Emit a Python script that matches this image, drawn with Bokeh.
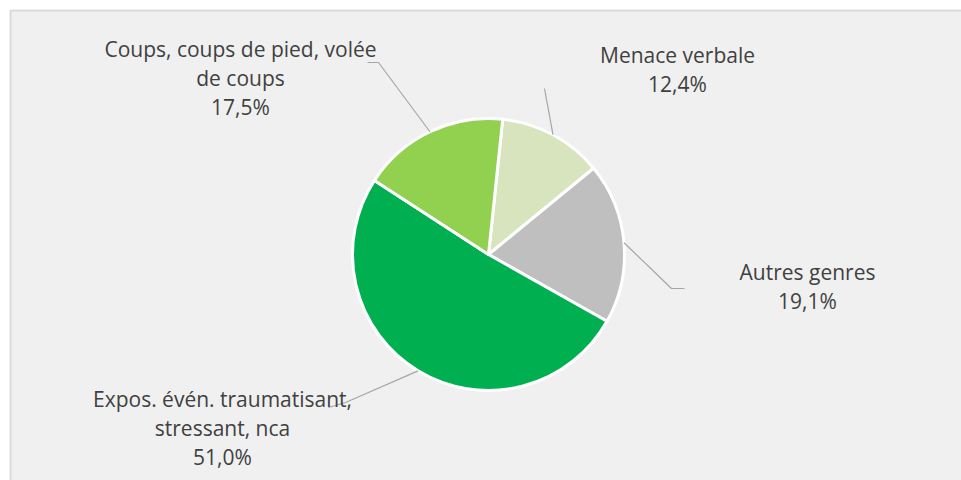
import math
from bokeh.plotting import figure
from bokeh.models import Range1d
from bokeh.core.properties import value
from bokeh.embed import file_html
from bokeh.resources import INLINE

# ---- data ----
categories = ["Menace verbale", "Autres genres",
              "Expos. évén. traumatisant,\nstressant, nca",
              "Coups, coups de pied, volée\nde coups"]
shares = [12.4, 19.1, 51.0, 17.5]
pct_labels = ["12,4%", "19,1%", "51,0%", "17,5%"]
colors = ["#d7e4bd", "#bfbfbf", "#00b050", "#92d050"]

# ---- layout (page pixel coordinates, y downward) ----
W, H = 961, 480
X0, Y0 = 9, 9          # frame top-left on the page
CX, CY, R = 488, 254, 136
START_DEG = 6.0        # first slice boundary, clockwise from 12 o'clock
LINE_GAP = 29
TEXT_SHIFT = -9
label_anchor = [(677, 63), (807, 280), (222, 407), (240, 57)]   # first-line baseline centre
leader_rest = [
    [(544, 88)],
    [(671, 288), (684, 288)],
    [(345, 402), (328, 407)],
    [(378, 62), (367, 62)],
]

def ty(page_y):
    return H - page_y

p = figure(width=W, height=H, output_backend="svg", toolbar_location=None,
           x_range=Range1d(X0, W), y_range=Range1d(0, H - Y0),
           min_border_left=X0, min_border_top=Y0, min_border_right=0, min_border_bottom=0,
           background_fill_color="#f0f0f0", border_fill_color="white",
           outline_line_color=None)
p.axis.visible = False
p.grid.visible = False

# chart-area border (top and left edges visible)
p.segment(x0=[X0 + 1, X0 + 1], y0=[ty(Y0 + 1), 0],
          x1=[W, X0 + 1], y1=[ty(Y0 + 1), ty(Y0 + 1)],
          line_color="#d9d9d9", line_width=2)

total = sum(shares)
cum = START_DEG
starts, ends, mids = [], [], []
for s in shares:
    a0 = cum
    a1 = cum + s / total * 360.0
    starts.append(math.radians(90 - a0))
    ends.append(math.radians(90 - a1))
    mids.append((a0 + a1) / 2)
    cum = a1

p.wedge(x=[CX] * 4, y=[ty(CY)] * 4, radius=R, start_angle=starts, end_angle=ends,
        direction="clock", fill_color=colors, line_color="white", line_width=3)

# leader lines
xs, ys = [], []
for m, rest in zip(mids, leader_rest):
    ex = CX + R * math.sin(math.radians(m))
    ey = CY - R * math.cos(math.radians(m))
    pts = [(ex, ey)] + rest
    xs.append([q[0] for q in pts])
    ys.append([ty(q[1]) for q in pts])
p.multi_line(xs=xs, ys=ys, line_color="#a6a6a6", line_width=1.2)

# labels
tx, tyy, tt = [], [], []
for cat, pct, (ax, ay) in zip(categories, pct_labels, label_anchor):
    lines = cat.split("\n") + [pct]
    for i, ln in enumerate(lines):
        tx.append(ax)
        tyy.append(ty(ay + TEXT_SHIFT + i * LINE_GAP))
        tt.append(ln)
p.text(x=tx, y=tyy, text=tt, text_font=value("Open Sans"), text_font_size="21px",
       text_color="#404040", text_align="center", text_baseline="alphabetic")

open("out.html", "w").write(file_html(p, INLINE))
